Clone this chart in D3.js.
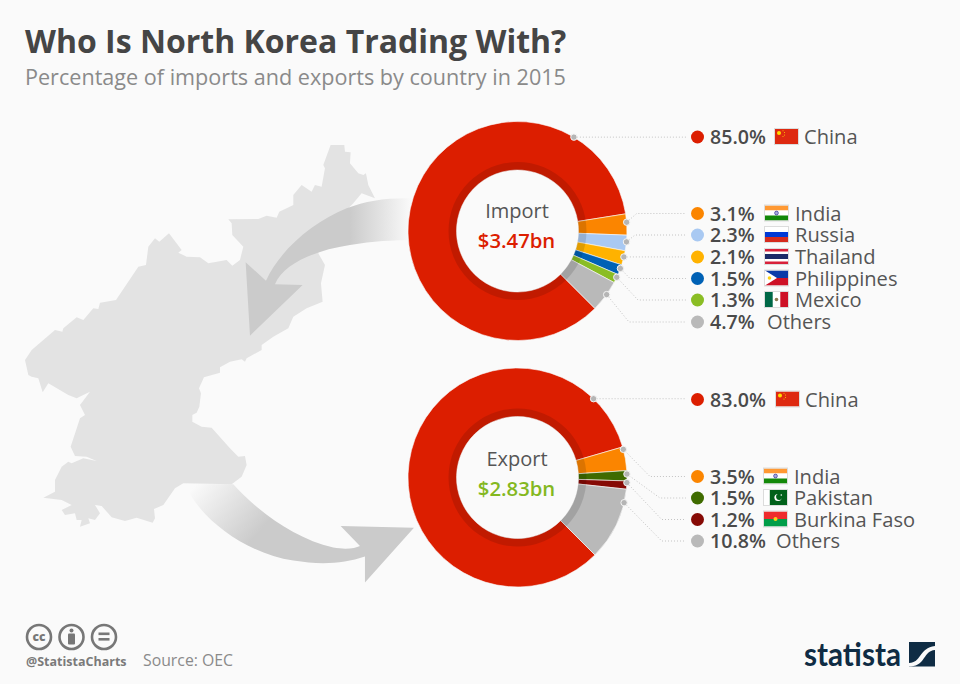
<!DOCTYPE html>
<html><head><meta charset="utf-8">
<script src="https://cdn.jsdelivr.net/npm/d3@7/dist/d3.min.js"></script>
<style>html,body{margin:0;padding:0;background:#fafafa}svg{display:block}text{font-family:"Open Sans",sans-serif}</style>
</head><body><svg id="c" width="960" height="684"></svg>
<script>
const importCountries=["China","India","Russia","Thailand","Philippines","Mexico","Others"];
const importValues=[85.0,3.1,2.3,2.1,1.5,1.3,4.7];
const importColors=["#dc1e00","#fb8500","#a9c9f2","#ffb200","#0061b5","#8abd24","#b9b9b9"];
const exportCountries=["China","India","Pakistan","Burkina Faso","Others"];
const exportValues=[83.0,3.5,1.5,1.2,10.8];
const exportColors=["#dc1e00","#fb8500","#3f6b00","#860a05","#b9b9b9"];
const titleText="Who Is North Korea Trading With?";
const subtitleText="Percentage of imports and exports by country in 2015";

// layout (kept apart from the values)
const importLayout={cy:231,name:"Import",total:"$3.47bn",totalColor:"#dc1e00",
  dotAngles:[31,85.4,95.7,103.7,110,115,125.5],
  rows:[137,213.5,235,257,278.5,300,322],
  elbows:[null,[636.7,213.5],[635,235],null,[630,278.5],[638,300],[629,322]],
  flagX:[775,765,765,765,765,765,null],nameX:[804,795,795,795,795,795,767]};
const exportLayout={cy:477.5,name:"Export",total:"$2.83bn",totalColor:"#84b81f",
  dotAngles:[44,75.1,88.2,92.7,103.3],
  rows:[399.5,476.5,498,519.5,541],
  elbows:[null,[650,476.5],[660,498],[661.7,519.5],[661.7,541]],
  flagX:[776,764,764,764,null],nameX:[805,794,794,794,776]};
const CX=517.5,R=109.5,R0=61,RB=69,START=135*Math.PI/180;
const mapPts=[[992,45],[1033,45],[1035,65],[1052,67],[1050,100],[1075,130],[1090,135],[1098,130],[1105,165],[1125,205],[1085,190],[1060,220],[1040,240],[960,340],[955,370],[975,405],[963,460],[968,515],[920,535],[880,560],[865,595],[820,620],[785,645],[785,660],[740,685],[735,695],[725,688],[690,695],[660,712],[660,728],[612,742],[597,775],[603,790],[598,830],[590,848],[577,855],[577,875],[605,890],[635,893],[690,955],[715,980],[735,978],[740,1005],[725,1040],[695,1063],[550,1060],[525,1075],[490,1125],[462,1137],[465,1165],[458,1178],[410,1163],[375,1173],[335,1162],[305,1128],[285,1125],[300,1150],[285,1170],[265,1165],[270,1180],[240,1190],[245,1170],[230,1170],[225,1150],[195,1155],[185,1140],[215,1125],[185,1110],[130,1103],[165,1085],[165,1050],[185,1010],[205,995],[215,1000],[250,985],[290,993],[260,980],[225,978],[212,950],[240,865],[255,855],[240,825],[270,785],[230,805],[205,795],[145,760],[128,787],[115,745],[95,740],[85,735],[75,690],[95,660],[165,600],[187,605],[190,595],[230,562],[250,570],[280,535],[295,537],[300,518],[348,510],[415,410],[438,405],[445,350],[465,325],[478,335],[507,310],[545,360],[535,368],[560,380],[600,382],[625,400],[680,390],[697,407],[720,390],[730,350],[697,315],[695,280],[685,268],[775,267],[800,257],[830,263],[838,245],[880,225],[880,195],[905,165],[935,185],[945,165],[965,170],[975,115],[970,105]];

const svg=d3.select("#c");
svg.append("rect").attr("width",960).attr("height",684).attr("fill","#fafafa");
const defs=svg.append("defs");
function grad(id,x1,y1,x2,y2){const g=defs.append("linearGradient").attr("id",id).attr("gradientUnits","userSpaceOnUse")
 .attr("x1",x1).attr("y1",y1).attr("x2",x2).attr("y2",y2);
 g.append("stop").attr("offset",0).attr("stop-color","#cbcbcb").attr("stop-opacity",0);
 g.append("stop").attr("offset",1).attr("stop-color","#cbcbcb");}
grad("g1",1235,280,1050,280);
grad("g2",590,1060,770,1215);

// map and arrows
const art=svg.append("g").attr("transform","translate(0,130) scale(0.3333)");
art.append("path").attr("d",d3.line()(mapPts)+"Z").attr("fill","#e3e3e3");
art.append("path").attr("fill","url(#g1)").attr("d","M1240,205 C1160,203 1100,212 1040,235 C940,275 840,360 798,452 L737,397 L750,617 L908,465 L825,463 C850,400 950,360 1050,345 C1120,333 1180,331 1240,330Z");
art.append("path").attr("fill","url(#g2)").attr("d","M555,1062 L700,1063 C770,1140 880,1225 1000,1253 C1040,1260 1065,1255 1080,1248 L1022,1188 L1242,1193 L1095,1358 L1095,1280 C1030,1302 960,1305 880,1292 C740,1270 600,1170 555,1062Z");

// donuts
function donut(countries,values,colors,L){
 const pie=d3.pie().sort(null).value(d=>d).startAngle(START).endAngle(START+2*Math.PI);
 const arc=d3.arc().innerRadius(R0).outerRadius(R);
 const g=svg.append("g").attr("transform",`translate(${CX},${L.cy})`);
 const arcs=pie(values);
 g.selectAll("path.s").data(arcs).join("path").attr("class","s").attr("d",arc)
  .attr("fill",(d,i)=>colors[i]).attr("stroke","#fafafa").attr("stroke-width",0.6);
 g.append("path").attr("d",d3.arc().innerRadius(R0).outerRadius(RB).startAngle(0).endAngle(2*Math.PI)()).attr("fill","rgba(0,0,0,0.12)");
 g.append("text").attr("text-anchor","middle").attr("x",-0.5).attr("y",L.cy===231?-13:-11.5).attr("font-size",20).attr("fill","#555").text(L.name);
 g.append("text").attr("text-anchor","middle").attr("x",-1).attr("y",L.cy===231?16.5:18).attr("font-size",20.3).attr("font-weight",600).attr("fill",L.totalColor).text(L.total);
 // leaders
 countries.forEach((c,i)=>{
  const a=L.dotAngles[i]*Math.PI/180,dx=CX+R*Math.sin(a),dy=L.cy-R*Math.cos(a),y=L.rows[i];
  const pts=L.elbows[i]?[[dx,dy],L.elbows[i],[686,y]]:[[dx,dy],[686,dy]];
  svg.append("path").attr("d",d3.line()(pts)).attr("fill","none").attr("stroke","#c4c4c4").attr("stroke-width",1).attr("stroke-dasharray","1 2");
  svg.append("circle").attr("cx",dx).attr("cy",dy).attr("r",3.2).attr("fill","#b5b5b5").attr("stroke","#f4f4f4").attr("stroke-width",1);
  svg.append("circle").attr("cx",697.5).attr("cy",y).attr("r",6.5).attr("fill",colors[i]);
  svg.append("text").attr("x",710).attr("y",y+7).attr("font-size",19.6).attr("font-weight",600).attr("fill","#4a4a4a").text(d3.format(".1f")(values[i])+"%");
  if(L.flagX[i]!=null) flag(L.flagX[i],y-8,c);
  svg.append("text").attr("x",L.nameX[i]).attr("y",y+7).attr("font-size",20.1).attr("fill","#555").text(c);
 });
}
function flag(x,y,name){
 const f=svg.append("g").attr("transform",`translate(${x},${y})`);
 const W=23,H=15;
 const r=(a,b,w,h,c)=>f.append("rect").attr("x",a).attr("y",b).attr("width",w).attr("height",h).attr("fill",c);
 const poly=(p,c)=>f.append("polygon").attr("points",p).attr("fill",c);
 const circ=(a,b,q,c)=>f.append("circle").attr("cx",a).attr("cy",b).attr("r",q).attr("fill",c);
 if(name==="China"){r(0,0,W,H,"#de2910");circ(4,4,2,"#ffde00");circ(8,1.8,.5,"#ffde00");circ(9.5,3.5,.5,"#ffde00");circ(9.5,6,.5,"#ffde00");circ(8,7.6,.5,"#ffde00");}
 if(name==="India"){r(0,0,W,5,"#ff9933");r(0,5,W,5,"#fff");r(0,10,W,5,"#138808");f.append("circle").attr("cx",11.5).attr("cy",7.5).attr("r",1.9).attr("fill","#a8a8d8").attr("stroke","#000080").attr("stroke-width",.5);}
 if(name==="Russia"){r(0,0,W,5,"#fff");r(0,5,W,5,"#0039d6");r(0,10,W,5,"#d52b1e");}
 if(name==="Thailand"){r(0,0,W,H,"#fff");r(0,0,W,2.5,"#d8213a");r(0,12.5,W,2.5,"#d8213a");r(0,5,W,5,"#1c2a68");}
 if(name==="Philippines"){r(0,0,W,7.5,"#0a3aa8");r(0,7.5,W,7.5,"#ce1126");poly(`0,0 12,7.5 0,15`,"#fff");circ(4.5,7.5,1.8,"#fcd116");}
 if(name==="Mexico"){r(0,0,W,H,"#fff");r(0,0,7.7,H,"#006847");r(15.3,0,7.7,H,"#ce1126");circ(11.5,7.5,1.8,"#8c7a50");}
 if(name==="Pakistan"){r(0,0,W,H,"#fff");r(5.8,0,17.2,H,"#01611a");circ(14,7.5,3.6,"#fff");circ(15.2,6.8,3.1,"#01611a");circ(17.3,5,.8,"#fff");}
 if(name==="Burkina Faso"){r(0,0,W,7.5,"#ef2b2d");r(0,7.5,W,7.5,"#009e49");circ(11.5,7.5,2,"#fcd116");}
 f.append("rect").attr("x",-.5).attr("y",-.5).attr("width",W+1).attr("height",H+1).attr("fill","none").attr("stroke","#dcdcdc").attr("stroke-width",1);
}
donut(importCountries,importValues,importColors,importLayout);
donut(exportCountries,exportValues,exportColors,exportLayout);

// title
svg.append("text").attr("x",25).attr("y",52.5).attr("font-size",32).attr("font-weight",700).attr("fill","#454545").text(titleText);
svg.append("text").attr("x",25).attr("y",85).attr("font-size",21.6).attr("fill","#8a8a8a").text(subtitleText);

// footer
const ic=svg.append("g").attr("fill","none").attr("stroke","#777").attr("stroke-width",2.6);
[39,71.5,104].forEach(x=>ic.append("circle").attr("cx",x).attr("cy",637).attr("r",12));
svg.append("text").attr("x",39).attr("y",641).attr("text-anchor","middle").attr("font-size",12).attr("font-weight",800).attr("fill","#777").text("cc");
svg.append("circle").attr("cx",71.5).attr("cy",630.5).attr("r",2).attr("fill","#777");
svg.append("rect").attr("x",68).attr("y",633.5).attr("width",7).attr("height",11).attr("rx",1).attr("fill","#777");
svg.append("rect").attr("x",98.5).attr("y",632.5).attr("width",11).attr("height",2.6).attr("fill","#777");
svg.append("rect").attr("x",98.5).attr("y",638).attr("width",11).attr("height",2.6).attr("fill","#777");
svg.append("text").attr("x",26).attr("y",666).attr("font-size",12.5).attr("font-weight",700).attr("fill","#7a7a7a").text("@StatistaCharts");
svg.append("text").attr("x",143).attr("y",666).attr("font-size",15.8).attr("fill","#8a8a8a").text("Source: OEC");

// logo
svg.append("text").attr("x",804).attr("y",666).attr("font-size",32).attr("font-weight",700).attr("fill","#0f2c44")
 .attr("textLength",97).attr("lengthAdjust","spacingAndGlyphs").style("font-family","Lato, sans-serif").text("statista");
svg.append("rect").attr("x",909).attr("y",642).attr("width",26).attr("height",24.5).attr("fill","#0f2c44");
svg.append("path").attr("d","M909,663 C921,663 919,648 935,646 L935,650 C923,651 926,665 911,666.5 L909,666.5Z").attr("fill","#fafafa");
</script></body></html>
